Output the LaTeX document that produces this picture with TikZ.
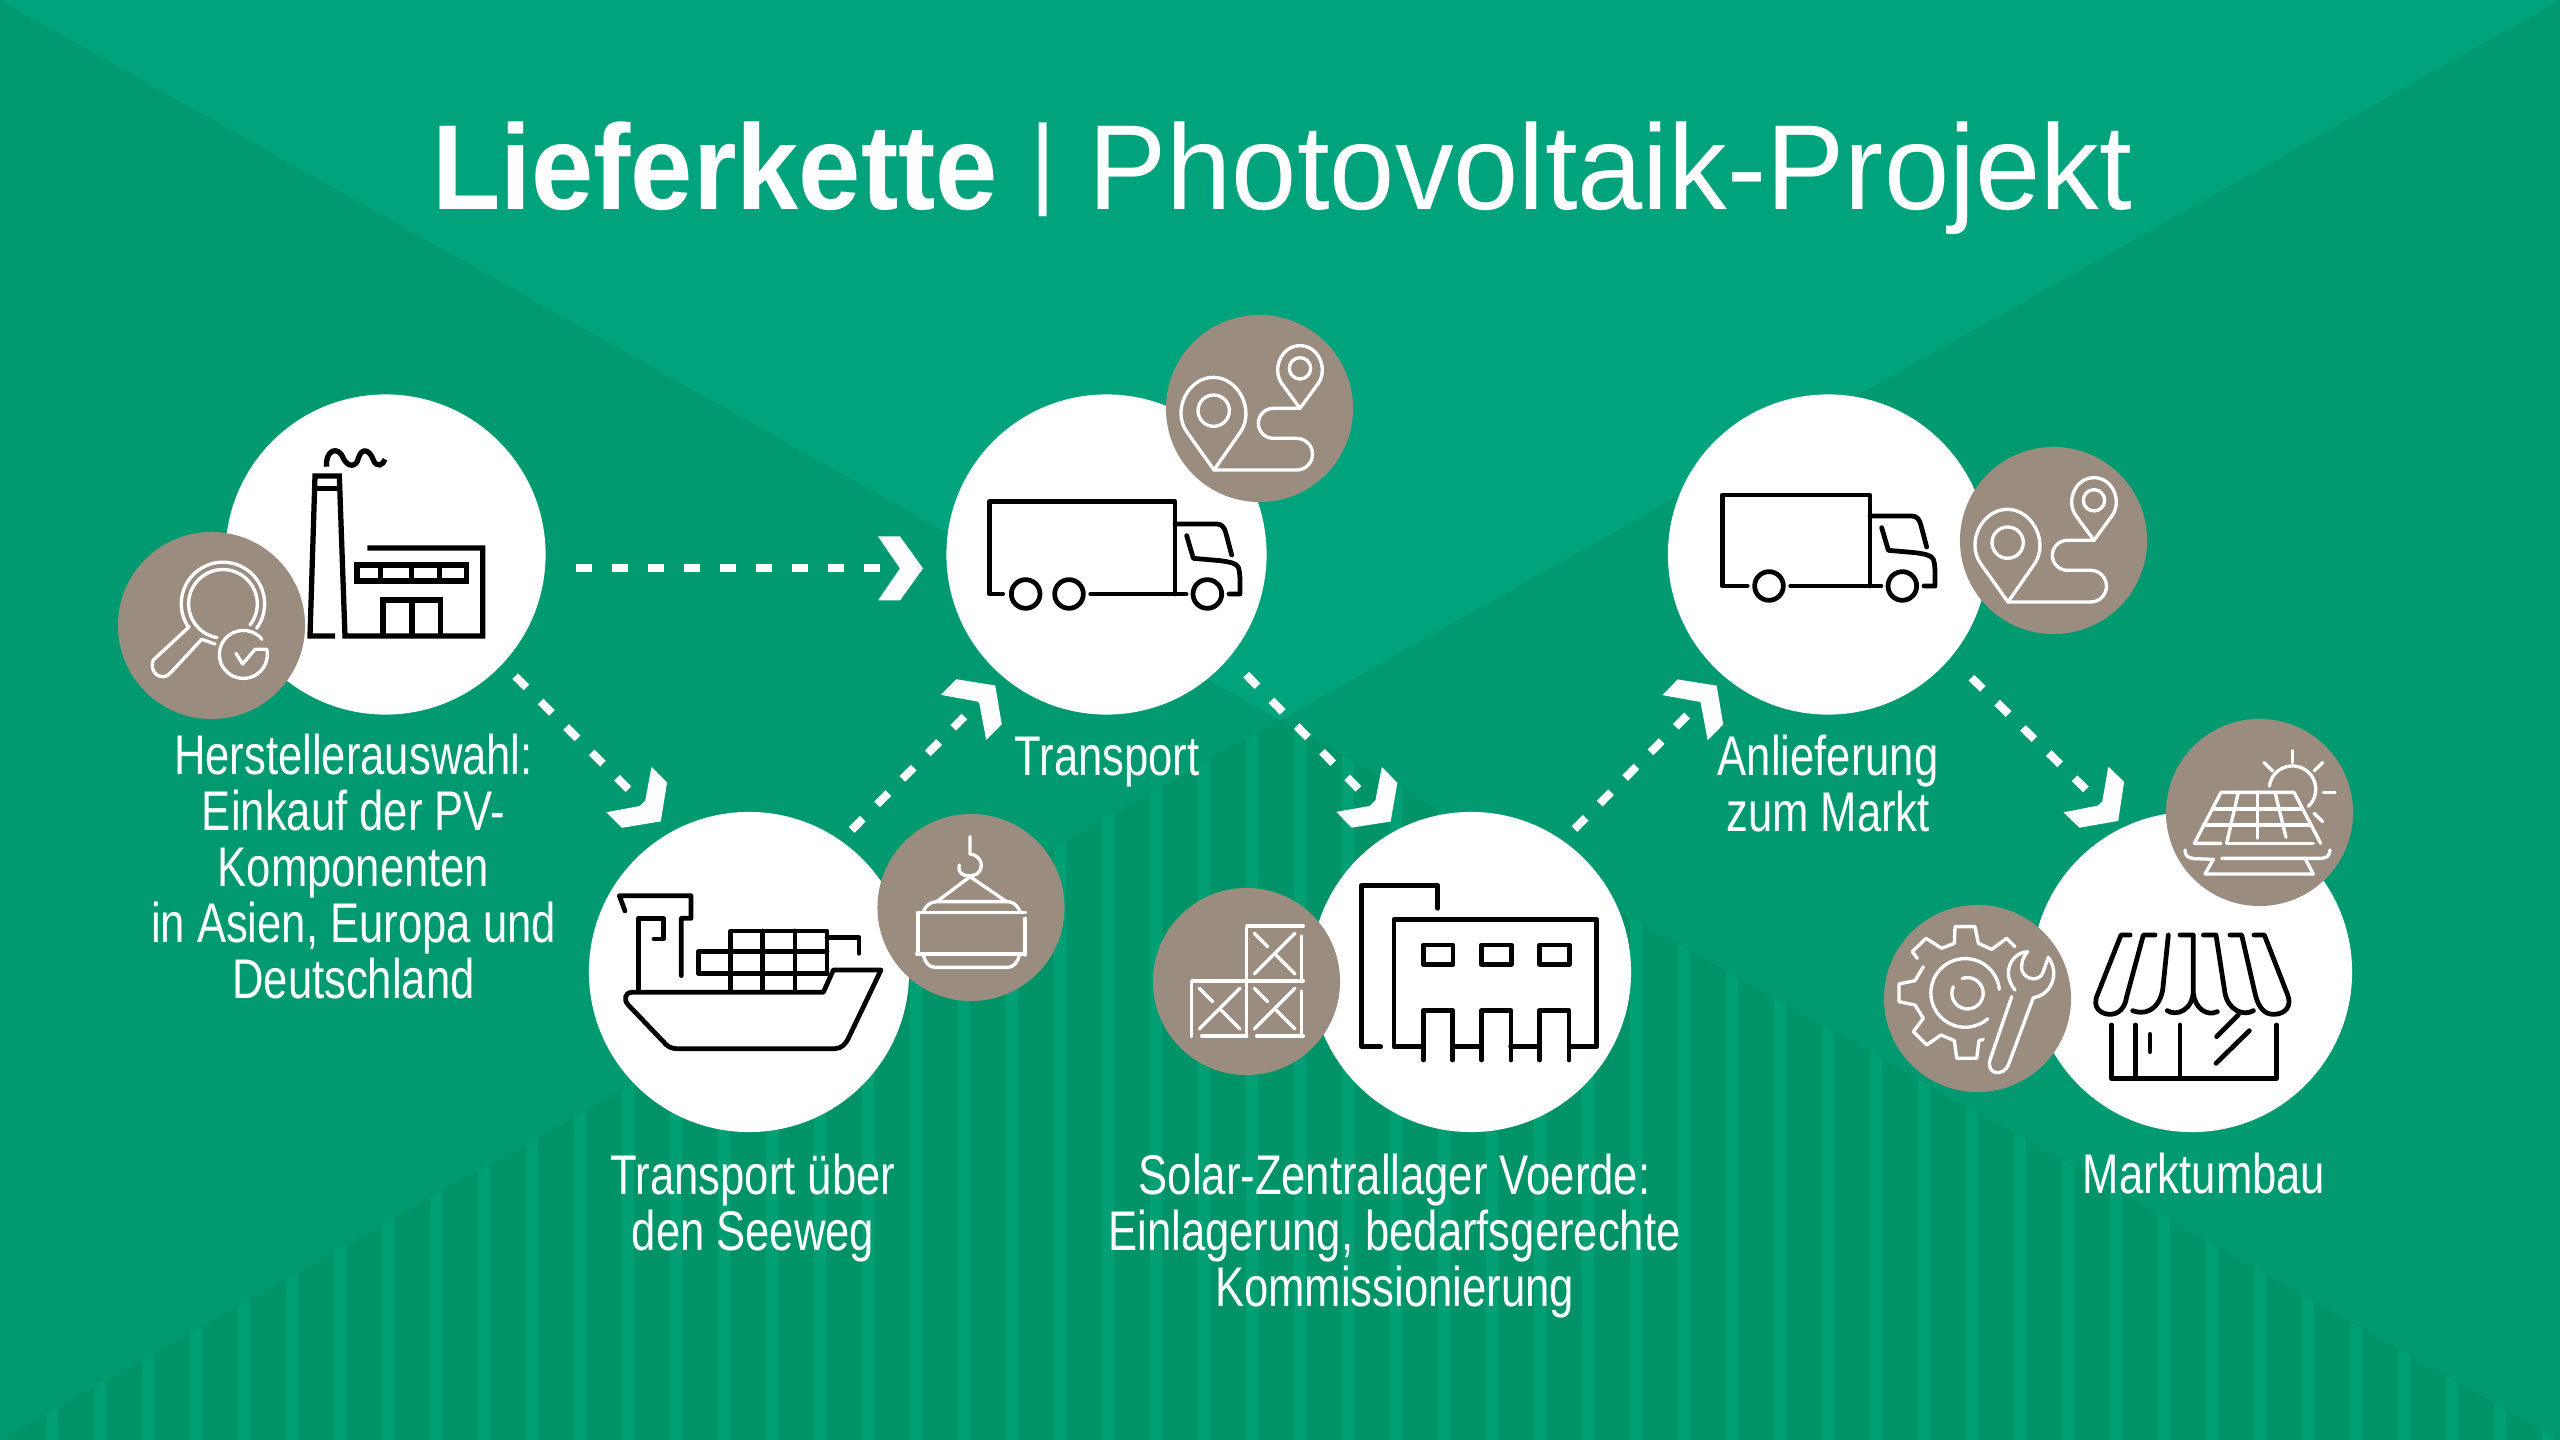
\documentclass[tikz,border=0pt]{standalone}
\usepackage{fontspec}
\setmainfont{Liberation Sans}
\newfontfamily\titlefont[FakeStretch=0.97]{Liberation Sans}
\newfontfamily\titlebold[FakeStretch=0.925]{Liberation Sans}
\newfontfamily\labelfont[FakeStretch=0.78]{Liberation Sans}

\definecolor{toplight}{HTML}{00A37B}
\definecolor{sidedark}{HTML}{019A70}
\definecolor{basedark}{HTML}{009367}
\definecolor{stripelight}{HTML}{00A074}
\definecolor{badgebrown}{HTML}{9B8C80}

% chevron tip of the dashed connectors
\pgfdeclarearrow{
  name=Chevron,
  setup code={
    \pgfarrowssettipend{0pt}
    \pgfarrowssetlineend{-6.54pt}
    \pgfarrowssetvisualbackend{-12.8pt}
    \pgfarrowssetbackend{-12.8pt}
  },
  drawing code={
    \pgfpathmoveto{\pgfpoint{0pt}{0pt}}
    \pgfpathlineto{\pgfpoint{-6.54pt}{9.1pt}}
    \pgfpathlineto{\pgfpoint{-12.8pt}{9.1pt}}
    \pgfpathlineto{\pgfpoint{-6.54pt}{0pt}}
    \pgfpathlineto{\pgfpoint{-12.8pt}{-9.1pt}}
    \pgfpathlineto{\pgfpoint{-6.54pt}{-9.1pt}}
    \pgfpathclose
    \pgfsetfillcolor{white}
    \pgfusepathqfill
  },
}

\tikzset{
  hub/.style={circle,fill=white,minimum size=3.2cm,inner sep=0pt,outer sep=0pt},
  badge/.style={circle,fill=badgebrown,minimum size=1.87cm,inner sep=0pt,outer sep=0pt},
  flowline/.style={draw=white,line width=2.28pt,dash pattern=on 4.55pt off 5.69pt,-Chevron},
  caption/.style={anchor=north,inner sep=0pt,align=center,text=white,
    font=\labelfont\fontsize{15.9pt}{15.93pt}\selectfont},
  blackline/.style={draw=black,line width=1.35pt,line cap=round,line join=round},
  whiteline/.style={draw=white,line width=0.95pt,line cap=round,line join=round},
  routeicon/.pic={
    \draw[whiteline] (852,510) -- (770,395) .. controls (725,330) and (775,232) .. (850,232)
      .. controls (925,232) and (975,330) .. (932,395) -- cycle;
    \draw[whiteline] (851,332) circle[radius=47];
    \draw[whiteline] (1110,325) -- (1055,250) .. controls (1025,205) and (1055,137) .. (1110,137)
      .. controls (1165,137) and (1195,205) .. (1165,250) -- cycle;
    \draw[whiteline] (1110,205) circle[radius=32];
    \draw[whiteline] (1110,325) -- (1030,325) arc[start angle=-90,end angle=-270,radius=45]
      -- (1100,415) arc[start angle=-90,end angle=90,radius=47.5] -- (852,510);
  },
  cabicon/.pic={
    \draw[blackline] (0,-210) -- (125,-210) .. controls (140,-210) and (148,-200) .. (152,-185) -- (170,-117);
    \draw[blackline] (35,-175) -- (55,-107) -- (135,-100) .. controls (165,-96) and (185,-92) .. (190,-80)
      .. controls (195,-65) and (195,-50) .. (195,-30) -- (195,0) -- (162,0);
    \draw[blackline] (0,0) -- (33,0);
    \draw[blackline] (97,0) circle[radius=43];
  },
}

\begin{document}
\begin{tikzpicture}[x=0.01cm,y=-0.01cm]
\useasboundingbox (0,0) rectangle (2560,1440);

% Background
\fill[basedark] (0,0) rectangle (2560,1440);
\fill[sidedark] (0,0) -- (1280,720) -- (0,1440) -- cycle;
\fill[sidedark] (2560,0) -- (1280,720) -- (2560,1440) -- cycle;
\fill[toplight] (0,0) -- (2560,0) -- (1280,720) -- cycle;
\begin{scope}
\clip (0,1440) -- (1280,720) -- (2560,1440) -- cycle;
\foreach \k in {0,...,52} {
  \fill[stripelight] ({46+48*\k},700) rectangle ++(12,740);
}
\end{scope}

% Stations
\node[hub] (factory) at (385.5,554.5) {};
\node[hub] (ship) at (749,972) {};
\node[hub] (truckA) at (1106.5,554.5) {};
\node[hub] (depot) at (1471,972) {};
\node[hub] (truckB) at (1828,554.5) {};
\node[hub] (market) at (2192,972) {};

% Connectors
\draw[flowline,shorten <=8.82pt,shorten >=6.83pt] (factory.-5) -- (truckA.185);
\draw[flowline,shorten <=5.03pt,shorten >=4.27pt] (factory.-43.2) -- (ship.119.4);
\draw[flowline,shorten <=4.35pt,shorten >=3.36pt] (ship.55.7) -- (truckA.230.3);
\draw[flowline,shorten <=6.92pt,shorten >=3.12pt] (truckA.-40.7) -- (depot.117.2);
\draw[flowline,shorten <=4.69pt,shorten >=3.41pt] (depot.55.2) -- (truckB.230.4);
\draw[flowline,shorten <=8.25pt,shorten >=2.45pt] (truckB.-40.05) -- (market.115.9);

% Badges
\node[badge] (search) at (211.5,625.5) {};
\node[badge] (crane) at (971,907.5) {};
\node[badge] (routeA) at (1259.5,408.5) {};
\node[badge] (boxes) at (1246.5,981.5) {};
\node[badge] (routeB) at (2053.5,540.5) {};
\node[badge] (solar) at (2259.5,812.5) {};
\node[badge] (service) at (1977.5,998.5) {};

% Title
\node[anchor=base,inner sep=0pt,text=white,font=\titlefont\fontsize{34.4pt}{36pt}\selectfont] (title) at (1282,210)
  {{\titlebold\bfseries Lieferkette} {\fontsize{28.5pt}{30pt}\selectfont\raisebox{4pt}{|}} Photovoltaik-Projekt};

% Captions
\node[caption] (capfactory) at (353.5,733) {Herstellerauswahl:\\Einkauf der PV-\\Komponenten\\in Asien, Europa und\\Deutschland};
\node[caption] (capship) at (753,1153) {Transport über\\den Seeweg};
\node[caption] (captruckA) at (1107,736) {Transport};
\node[caption] (capdepot) at (1394.5,1153) {Solar-Zentrallager Voerde:\\Einlagerung, bedarfsgerechte\\Kommissionierung};
\node[caption] (captruckB) at (1828,734) {Anlieferung\\zum Markt};
\node[caption] (capmarket) at (2204,1152) {Marktumbau};

% Factory icon
\begin{scope}[shift={(100,370)},scale=1/3,blackline/.append style={line width=1.5pt,line cap=butt,line join=miter}]
\draw[blackline] (680,290) .. controls (675,240) and (715,225) .. (730,265)
  .. controls (745,295) and (770,290) .. (775,265) .. controls (785,230) and (810,240) .. (820,270)
  .. controls (830,295) and (850,285) .. (855,268);
\draw[blackline] (705,798) -- (630,798) -- (645,318) -- (718,318) -- (735,798) -- (1148,798) -- (1148,534) -- (802,534);
\draw[blackline] (645,355) -- (718,355);
\draw[blackline] (771,585) rectangle (1100,633);
\foreach \x in {842,934,1018} {
  \draw[blackline] (\x,585) -- (\x,633);
}
\draw[blackline] (849,798) -- (849,690) -- (1022,690) -- (1022,798);
\draw[blackline] (936,690) -- (936,798);
\end{scope}

% Magnifier icon
\begin{scope}[shift={(100,370)},scale=1/3]
\draw[whiteline] (470,775) arc[start angle=36,end angle=-213,radius=125];
\draw[whiteline] (450,765) arc[start angle=38,end angle=-260,radius=103];
\draw[whiteline] (268,770) -- (160,870) .. controls (150,895) and (165,920) .. (188,920)
  .. controls (200,920) and (205,915) .. (215,905) -- (305,808) -- (345,822);
\draw[whiteline] (486,808) arc[start angle=-39,end angle=-372.6,radius=72] -- (465,838) -- (428,882) -- (408,850);
\end{scope}

% Ship icon
\begin{scope}[shift={(580,780)},scale=1/3]
\draw[blackline] (135,393) -- (118,347) -- (333,347) -- (333,415) -- (304,415) -- (304,587);
\draw[blackline] (175,632) -- (175,415) -- (250,415) -- (250,477) -- (222,477);
\draw[blackline] (452,632) -- (452,453) -- (741,453) -- (741,580);
\foreach \x in {548,645} {
  \draw[blackline] (\x,453) -- (\x,632);
}
\draw[blackline] (741,515) -- (355,515) -- (355,580) -- (741,580);
\draw[blackline] (741,473) -- (837,473) -- (837,520);
\draw[blackline] (903,570) -- (760,570) -- (730,637) -- (155,637) .. controls (135,637) and (130,660) .. (145,675)
  -- (250,785) .. controls (262,800) and (275,806) .. (290,806) -- (765,806)
  .. controls (785,806) and (798,790) .. (805,775) -- cycle;
\end{scope}

% Crane load icon
\begin{scope}[shift={(580,780)},scale=1/3]
\draw[whiteline] (1170,170) -- (1170,222) .. controls (1205,225) and (1215,265) .. (1190,282)
  .. controls (1165,295) and (1130,285) .. (1138,255);
\draw[whiteline] (1070,365) -- (1170,290) -- (1280,365);
\draw[whiteline] (1030,395) .. controls (1035,380) and (1050,365) .. (1070,365) -- (1285,365)
  .. controls (1300,365) and (1315,380) .. (1320,395);
\draw[whiteline] (1012,398) -- (1337,398);
\draw[whiteline] (1014,398) -- (1014,520);
\draw[whiteline] (1335,415) -- (1335,525);
\draw[whiteline] (1010,522) -- (1337,522);
\draw[whiteline] (1030,525) .. controls (1035,545) and (1045,562) .. (1065,562) -- (1285,562)
  .. controls (1300,562) and (1315,545) .. (1318,525);
\end{scope}

% First truck
\begin{scope}[shift={(930,300)},scale=1/3]
\draw[blackline] (218,882) -- (178,882) -- (178,605) -- (735,605) -- (735,882);
\draw[blackline] (482,882) -- (735,882);
\foreach \x in {287,417} {
  \draw[blackline] (\x,882) circle[radius=43];
}
\pic[scale=1/3] at (735,882) {cabicon};
\end{scope}
\pic[shift={(930,300)},scale=1/3] {routeicon};

% Boxes icon
\begin{scope}[shift={(1140,800)},scale=1/3]
\draw[whiteline] (320,708) -- (320,378) -- (490,378);
\draw[whiteline] (485,408) -- (485,545);
\draw[whiteline] (155,710) -- (155,543) -- (490,543);
\draw[whiteline] (485,573) -- (485,710);
\draw[whiteline] (185,708) -- (320,708);
\draw[whiteline] (350,708) -- (490,708);
\foreach \x/\y in {343/522,343/687,178/687} {
  \draw[whiteline] (\x,\y) -- ++(122,-122);
  \draw[whiteline] ({\x+62},{\y-60}) -- ++(60,60);
  \draw[whiteline] (\x,{\y-122}) -- ++(40,40);
}
\end{scope}

% Depot icon
\begin{scope}[shift={(1140,800)},scale=1/3]
\draw[blackline] (722,740) -- (665,740) -- (665,256) -- (893,256) -- (893,325);
\draw[blackline] (848,740) -- (762,740) -- (762,358) -- (1370,358) -- (1370,740) -- (1288,740);
\foreach \x in {850,1025,1199} {
  \draw[blackline] (\x,435) rectangle ++(89,58);
  \draw[blackline] (\x,780) -- (\x,632) -- ({\x+88},632) -- ({\x+88},780);
}
\draw[blackline] (938,740) -- (1025,740);
\draw[blackline] (1112,740) -- (1199,740);
\end{scope}

% Second truck
\begin{scope}[shift={(1660,380)},scale=1/3]
\draw[blackline] (262,618) -- (187,618) -- (187,345) -- (630,345) -- (630,618);
\draw[blackline] (392,618) -- (630,618);
\draw[blackline] (327,618) circle[radius=43];
\pic[scale=1/3] at (630,618) {cabicon};
\end{scope}
\pic[shift={(1724,432)},scale=1/3] {routeicon};

% Shop icon
\begin{scope}[shift={(1860,700)},scale=1/3]
\draw[blackline] (810,705) -- (783,705) -- (712,885) .. controls (695,925) and (725,943) .. (750,943)
  .. controls (775,943) and (795,925) .. (800,890) -- (850,705) -- (885,705);
\draw[blackline] (925,705) -- (908,870) .. controls (895,935) and (850,945) .. (818,932);
\draw[blackline] (960,705) -- (1000,705) -- (1000,870) .. controls (1000,930) and (950,950) .. (922,932);
\draw[blackline] (1000,880) .. controls (1005,925) and (1040,950) .. (1072,935);
\draw[blackline] (1030,705) -- (1068,705) -- (1095,880) .. controls (1105,930) and (1150,950) .. (1180,932);
\draw[blackline] (1110,705) -- (1145,705) -- (1185,880) .. controls (1195,925) and (1215,943) .. (1240,943)
  .. controls (1280,943) and (1295,915) .. (1283,885) -- (1213,705) -- (1182,705);
\draw[blackline] (755,975) -- (755,1135) -- (1250,1135) -- (1250,975);
\foreach \x in {827,960} {
  \draw[blackline] (\x,975) -- (\x,1135);
}
\draw[blackline] (870,1003) -- (870,1055);
\draw[blackline] (1135,945) -- (1070,1010);
\draw[blackline] (1068,1090) -- (1168,992);
\end{scope}

% Solar panel icon
\begin{scope}[shift={(1860,700)},scale=1/3]
\draw[whiteline] (1083,430) -- (1003,430) -- (1083,277) -- (1302,277) -- (1382,430);
\draw[whiteline] (1100,430) -- (1360,430);
\draw[whiteline] (1100,430) -- (1135,277);
\draw[whiteline] (1278,412) -- (1245,277);
\draw[whiteline] (1192,415) -- (1192,277);
\draw[whiteline] (1060,327) -- (1325,327);
\draw[whiteline] (1030,375) -- (1350,375);
\draw[whiteline] (1228,258) arc[start angle=188,end angle=407,radius=70];
\draw[whiteline] (1298,152) -- (1298,188);
\draw[whiteline] (1212,188) -- (1238,213);
\draw[whiteline] (1388,188) -- (1362,213);
\draw[whiteline] (1390,277) -- (1425,277);
\draw[whiteline] (1362,340) -- (1388,365);
\draw[whiteline] (975,450) .. controls (975,468) and (985,475) .. (1005,476) -- (1060,478) -- (1035,522) -- (1360,522) -- (1335,475) -- (1085,475);
\draw[whiteline] (1335,475) -- (1385,475) .. controls (1400,475) and (1410,465) .. (1410,450);
\end{scope}

% Gear and wrench icon
\begin{scope}[shift={(1860,700)},scale=1/3]
\draw[whiteline] (465,740) -- (440,715) -- (395,748) -- (355,730) -- (345,680) -- (285,680) -- (283,730)
  -- (245,745) -- (198,715) -- (157,755) -- (172,775);
\draw[whiteline] (190,800) -- (165,842) -- (117,852) -- (117,905) -- (165,915) -- (190,955) -- (160,995)
  -- (200,1035) -- (243,1005) -- (283,1022) -- (290,1075) -- (350,1075) -- (357,1022) -- (370,1018);
\draw[whiteline] (418,868) arc[start angle=-6,end angle=-311,radius=103];
\draw[whiteline] (280,860) arc[start angle=-155,end angle=-470,radius=47];
\draw[whiteline] (455,890) -- (390,1080) .. controls (378,1125) and (430,1130) .. (445,1095) -- (520,893)
  .. controls (575,885) and (600,820) .. (565,772) -- (548,820) .. controls (535,845) and (500,840) .. (487,815)
  .. controls (480,790) and (490,770) .. (503,755) .. controls (460,755) and (420,815) .. (465,870);
\end{scope}
\end{tikzpicture}
\end{document}
